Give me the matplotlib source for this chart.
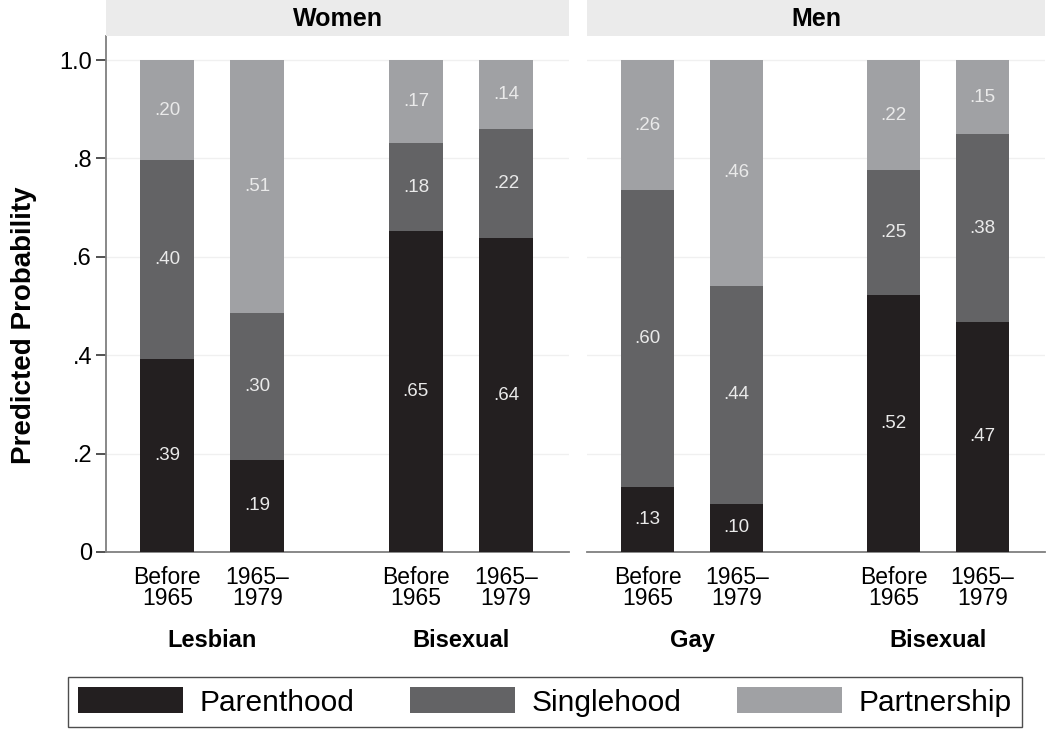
import matplotlib.pyplot as plt
import numpy as np
from matplotlib.patches import Patch

plt.rcParams["font.family"] = ["Liberation Sans", "DejaVu Sans"]

# 値
cohorts = ["Before\n1965", "1965–\n1979"]
women_groups = ["Lesbian", "Bisexual"]
men_groups = ["Gay", "Bisexual"]

women_parent = [0.392, 0.188, 0.652, 0.638]
women_single = [0.404, 0.298, 0.179, 0.222]
women_partner = [0.204, 0.514, 0.169, 0.140]

men_parent = [0.132, 0.098, 0.522, 0.468]
men_single = [0.604, 0.443, 0.254, 0.381]
men_partner = [0.264, 0.459, 0.224, 0.151]

series_names = ["Parenthood", "Singlehood", "Partnership"]
colors = ["#231f20", "#636365", "#a0a1a4"]

W, H = 1048, 729
fig = plt.figure(figsize=(W / 100, H / 100), dpi=100)

xpos = np.array([0, 1, 2.76, 3.76])
bar_w = 0.6


def fmt(v):
    return f"{v:.2f}".lstrip("0")


def draw_panel(left, width, title, groups, parent, single, partner, first):
    ax = fig.add_axes([left / W, 1 - 552 / H, width / W, (552 - 36) / H])
    bottom = np.zeros(4)
    for vals, c in zip([parent, single, partner], colors):
        vals = np.array(vals)
        ax.bar(xpos, vals, bar_w, bottom=bottom, color=c, edgecolor="none", zorder=3)
        for x, b, v in zip(xpos, bottom, vals):
            ax.text(x, b + v / 2, fmt(v), ha="center", va="center",
                    color="#eaeaea", fontsize=13.5, zorder=4)
        bottom = bottom + vals
    ax.set_xlim(-0.68, 4.46)
    ax.set_ylim(0, 1.049)
    ax.set_yticks([0, 0.2, 0.4, 0.6, 0.8, 1.0])
    ax.grid(axis="y", color="#f0f0f0", linewidth=1, zorder=0)
    ax.set_axisbelow(True)
    for s in ["top", "right"]:
        ax.spines[s].set_visible(False)
    ax.spines["bottom"].set_color("#7f7f7f")
    ax.spines["bottom"].set_linewidth(1.3)
    if first:
        ax.spines["left"].set_color("#7f7f7f")
        ax.spines["left"].set_linewidth(1.3)
        ax.set_yticklabels(["0", ".2", ".4", ".6", ".8", "1.0"], fontsize=17)
        ax.tick_params(axis="y", length=7, width=1.2, color="#333333", pad=3)
        ax.set_ylabel("Predicted Probability", fontsize=20, fontweight="bold")
        ax.yaxis.set_label_coords(-0.149, 0.44)
    else:
        ax.spines["left"].set_visible(False)
        ax.tick_params(axis="y", left=False, labelleft=False)
    ax.set_xticks(xpos)
    ax.set_xticklabels(cohorts * 2, fontsize=16.5, linespacing=0.92)
    ax.tick_params(axis="x", length=0, pad=10)
    for gx, g in zip([0.5, 3.26], groups):
        ax.text(gx, -0.171, g, ha="center", va="center", fontsize=17,
                fontweight="bold", transform=ax.get_xaxis_transform())
    # パネルの見出し
    hax = fig.add_axes([left / W, 1 - 36 / H, width / W, 36 / H])
    hax.set_facecolor("#ebebeb")
    hax.set_xticks([])
    hax.set_yticks([])
    for s in hax.spines.values():
        s.set_visible(False)
    hax.text(0.5, 0.48, title, ha="center", va="center", fontsize=18,
             fontweight="bold", transform=hax.transAxes)
    return ax


draw_panel(106, 463, "Women", women_groups, women_parent, women_single, women_partner, True)
draw_panel(587, 458, "Men", men_groups, men_parent, men_single, men_partner, False)

handles = [Patch(facecolor=c, edgecolor="none") for c in colors]
leg = fig.legend(handles, series_names, loc="lower left", ncol=3, mode="expand",
                 bbox_to_anchor=(68 / W, 1 - 727 / H, 954 / W, 53 / H),
                 fontsize=21.5, handlelength=3.5, handleheight=0.95,
                 frameon=True, fancybox=False, borderaxespad=0, borderpad=0.35,
                 handletextpad=0.55, columnspacing=1.5)
leg.get_frame().set_edgecolor("#222222")
leg.get_frame().set_linewidth(1.0)

fig.savefig("out.png", dpi=100)
